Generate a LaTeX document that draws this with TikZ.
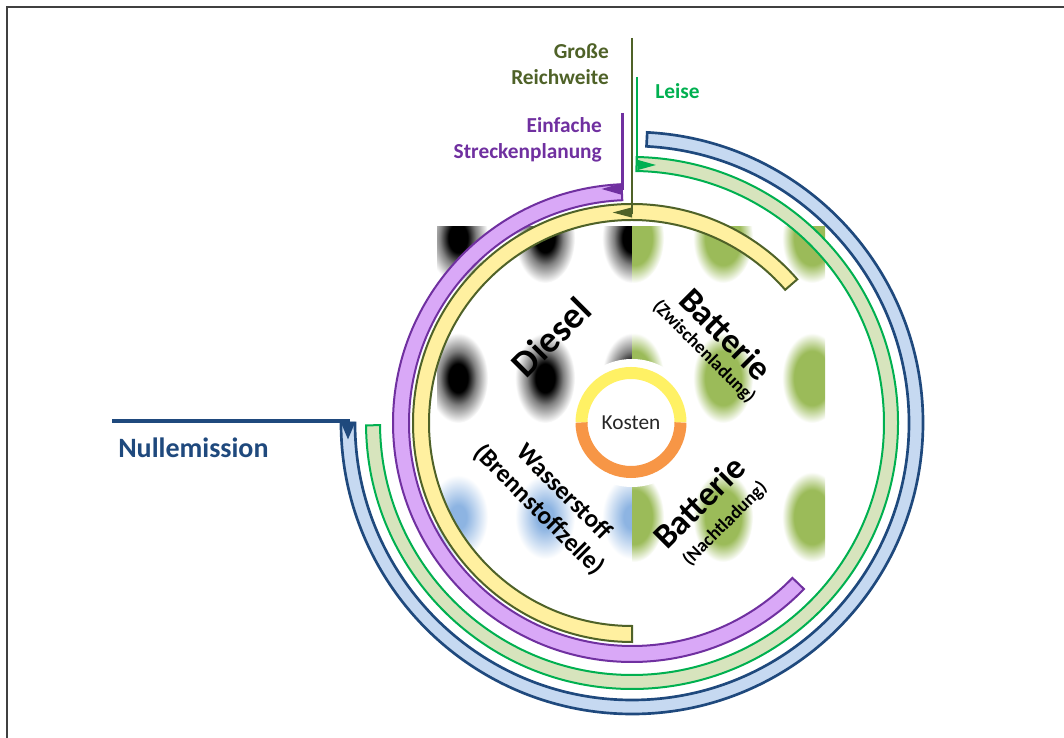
\documentclass[tikz,border=0pt]{standalone}
\usepackage{fontspec}
\setmainfont{Carlito}
\usetikzlibrary{arrows.meta}
\definecolor{cOlive}{HTML}{4F6228}
\definecolor{cYelFill}{HTML}{FFF0A0}
\definecolor{cPurp}{HTML}{7030A0}
\definecolor{cPurpFill}{HTML}{D9A8F7}
\definecolor{cGreen}{HTML}{00B050}
\definecolor{cGreenFill}{HTML}{D7E4BD}
\definecolor{cNavy}{HTML}{1F497D}
\definecolor{cBlueFill}{HTML}{C6D9F1}
\definecolor{cKostY}{HTML}{FFF164}
\definecolor{cKostO}{HTML}{F79646}
\definecolor{cDotG}{HTML}{9BBB59}
\definecolor{cDotB}{HTML}{8DB4E2}
\definecolor{cText}{HTML}{262626}
\pgfdeclareradialshading{blackdot}{\pgfpoint{0bp}{0bp}}{color(0bp)=(black); color(8bp)=(black); color(15bp)=(black!50); color(25bp)=(white); color(50bp)=(white)}
\pgfdeclareradialshading{greendot}{\pgfpoint{0bp}{0bp}}{color(0bp)=(cDotG); color(15bp)=(cDotG); color(25bp)=(white); color(50bp)=(white)}
\pgfdeclareradialshading{bluedot}{\pgfpoint{0bp}{0bp}}{color(0bp)=(cDotB); color(7bp)=(cDotB); color(25bp)=(white); color(50bp)=(white)}
\newcommand{\bandarc}[5]{\draw[#1] ([shift={(#2:#5)}]C) arc[start angle=#2, end angle=#3, radius=#5] -- ([shift={(#3:#4)}]C) arc[start angle=#3, end angle=#2, radius=#4] -- cycle;}
\tikzset{
  lbl/.style={font=\fontsize{16}{19.5}\selectfont\bfseries, inner sep=0pt},
  bigtxt/.style={font=\fontsize{28}{30}\selectfont\bfseries, inner sep=0pt},
  battxt/.style={font=\fontsize{26}{28}\selectfont\bfseries, inner sep=0pt},
  subtxt/.style={font=\fontsize{14}{16}\selectfont\bfseries, inner sep=0pt},
  h2txt/.style={font=\fontsize{19}{21}\selectfont\bfseries, inner sep=0pt},
  bandline/.style={line width=1.5pt, line join=miter}
}
\begin{document}
\begin{tikzpicture}[x=0.75pt,y=0.75pt]
\useasboundingbox (0,0) rectangle (1064,738);
\fill[white] (0,0) rectangle (1064,738);
\draw[line width=1.2pt, black!75] (7,0) -- (7,731) -- (1064,731);
\coordinate (C) at (632,315);
\coordinate (K) at (631,315.5);
% dot pattern
\begin{scope}
\clip (437,175) rectangle (632,511);
\foreach \x in {458,545,632}{
  \foreach \y in {500,360}{\shade[shading=blackdot] (\x,\y) ellipse [x radius=30, y radius=45];}
  \shade[shading=bluedot] (\x,221) ellipse [x radius=30, y radius=42];
}
\end{scope}
\begin{scope}
\clip (632,175) rectangle (825,511);
\foreach \x in {634,723,812}{
  \foreach \y in {500,360,221}{\shade[shading=greendot] (\x,\y) ellipse [x radius=30, y radius=45];}
}
\end{scope}
% Kosten
\fill[white] (C) circle[radius=64];
\draw[cKostY, line width=9pt] ([shift={(0:49.5)}]K) arc[start angle=0, end angle=180, radius=49.5];
\draw[cKostO, line width=9pt] ([shift={(180:49.5)}]K) arc[start angle=180, end angle=360, radius=49.5];
\node[font=\fontsize{16}{19}\selectfont, text=cText, inner sep=0pt] (kosten) at (631,315) {Kosten};
% inner labels
\node[bigtxt, rotate=45] (diesel) at (551,401) {Diesel};
\node[battxt, rotate=-45] (bat1) at (726,404) {Batterie};
\node[subtxt, rotate=-45] (bat1s) at (704,386) {(Zwischenladung)};
\node[h2txt, rotate=-45] (h2) at (565,247) {Wasserstoff};
\node[h2txt, rotate=-45] (h2s) at (539,228) {(Brennstoffzelle)};
\node[battxt, rotate=45] (bat2) at (699,236) {Batterie};
\node[subtxt, rotate=45] (bat2s) at (725,214) {(Nachtladung)};
% bands
\bandarc{bandline, draw=cOlive, fill=cYelFill}{41}{270}{203}{219}
\bandarc{bandline, draw=cPurp, fill=cPurpFill}{92.5}{316}{223}{239}
\bandarc{bandline, draw=cGreen, fill=cGreenFill}{89}{-179.5}{252}{266}
\bandarc{line width=2pt, draw=cNavy, fill=cBlueFill}{87}{-180}{277}{291}
% connectors
\coordinate (grTop) at (632,700);
\coordinate (grEnd) at (632,525.5);
\coordinate (grTip) at (612,525.5);
\draw[cOlive, line width=2.2pt, -{Triangle[length=15pt,width=7pt]}] (grTop) -- (grEnd) -- (grTip);
\coordinate (esTop) at (622,625);
\coordinate (esEnd) at (622,549);
\coordinate (esTip) at (601,549);
\draw[cPurp, line width=2.25pt, -{Triangle[length=15.5pt,width=8pt]}] (esTop) -- (esEnd) -- (esTip);
\coordinate (leTop) at (637,661);
\coordinate (leEnd) at (637,573);
\coordinate (leTip) at (656,573);
\draw[cGreen, line width=1.1pt, -{Triangle[length=14pt,width=7.5pt]}] (leTop) -- (leEnd) -- (leTip);
\coordinate (nuStart) at (112,317);
\coordinate (nuEnd) at (348,317);
\coordinate (nuTip) at (348,298);
\draw[cNavy, line width=3pt, -{Triangle[length=13.5pt,width=10pt]}] (nuStart) -- (nuEnd) -- (nuTip);
% outer labels
\node[lbl, text=cOlive, anchor=east, align=right] (grLbl) at (609,674) {Große\\Reichweite};
\node[lbl, text=cPurp, anchor=east, align=right] (esLbl) at (602,598) {Einfache\\Streckenplanung};
\node[lbl, text=cGreen, anchor=west] (leLbl) at (655,647) {Leise};
\node[font=\fontsize{21}{25}\selectfont\bfseries, text=cNavy, anchor=west, inner sep=0pt] (nuLbl) at (118,290) {Nullemission};
\end{tikzpicture}
\end{document}
